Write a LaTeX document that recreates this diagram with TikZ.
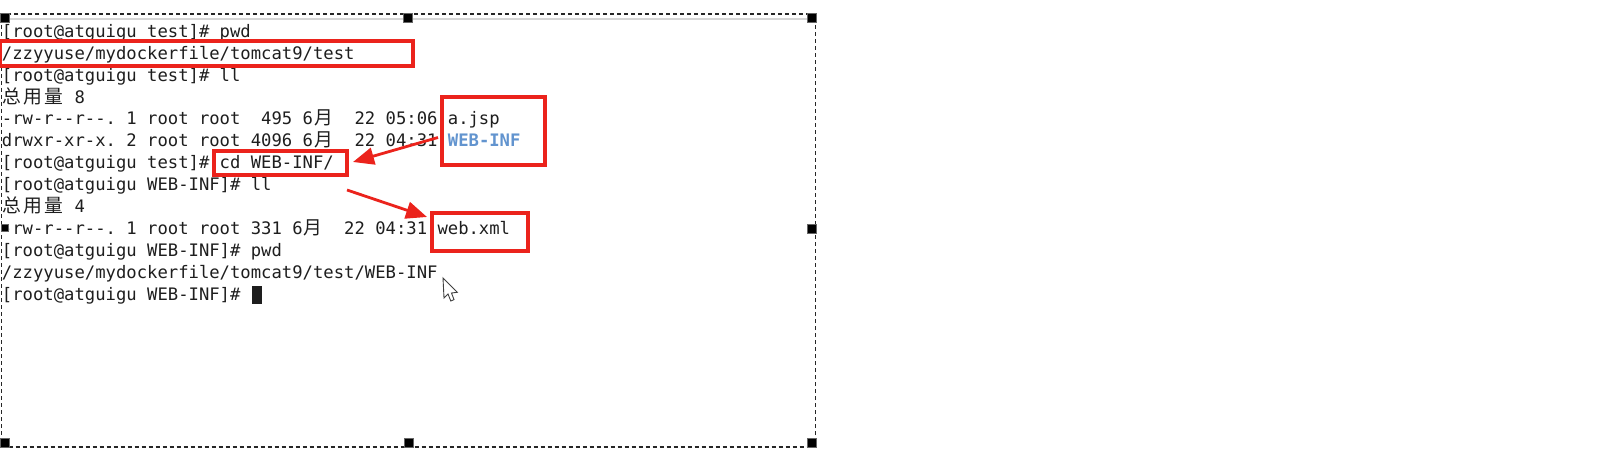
\documentclass[tikz,border=0pt]{standalone}
\usepackage{fontspec}
\newfontfamily\termfont{DejaVu Sans Mono}[Ligatures=TeXOff,WordSpace={1,0,0},PunctuationSpace=WordSpace]
\newfontfamily\cjk{Noto Sans CJK SC}
\usetikzlibrary{arrows.meta,fit}
\definecolor{termtxt}{RGB}{30,30,30}
\definecolor{lblue}{RGB}{98,148,207}
\definecolor{mred}{RGB}{235,35,28}
\newcommand\zh[1]{\makebox[10.37pt][c]{\cjk\fontsize{9.4pt}{9.4pt}\selectfont #1}}
\begin{document}
\begin{tikzpicture}[x=0.5pt,y=-0.5pt,
  term/.style={anchor=base west, inner sep=0pt, outer sep=0pt, text=termtxt,
    font=\termfont\fontsize{8.612pt}{10pt}\selectfont\frenchspacing},
  redbox/.style={draw=mred, line width=1.75pt, inner sep=0pt, fit={#1}},
  redarrow/.style={draw=mred, line width=1.4pt, -{Triangle[length=10.5pt,width=8.5pt]}},
  handle/.style={fill=black, draw=black!60, line width=0.3pt, minimum size=4.4pt, inner sep=0pt},
  selframe/.style={draw=black!85, line width=0.6pt, dash pattern=on 2pt off 1.5pt},
]
\fill[white] (0,0) rectangle (1600,454);
\useasboundingbox (0,0) rectangle (1600,454);

% selection frame
\draw[black!16, line width=1pt] (2,19.5) -- (814,19.5);
\node[selframe, inner sep=0pt, fit={(1.5,14) (815.5,447)}] (frame) {};

% terminal lines
\node[term] (l1)  at (2,37.5)  {[root@atguigu test]\# pwd};
\node[term] (l2)  at (2,59.4)  {/zzyyuse/mydockerfile/tomcat9/test};
\node[term] (l3)  at (2,81.2)  {[root@atguigu test]\# ll};
\node[term] (l4)  at (2,103.1) {\zh{总}\zh{用}\zh{量} 8};
\node[term] (l5)  at (2,125)   {-rw-r--r--. 1 root root~~495 6\zh{月}~~22 05:06 a.jsp};
\node[term] (l6)  at (2,146.9) {drwxr-xr-x. 2 root root 4096 6\zh{月}~~22 04:31 \textcolor{lblue}{\bfseries WEB-INF}};
\node[term] (l7)  at (2,168.7) {[root@atguigu test]\# cd WEB-INF/};
\node[term] (l8)  at (2,190.6) {[root@atguigu WEB-INF]\# ll};
\node[term] (l9)  at (2,212.5) {\zh{总}\zh{用}\zh{量} 4};
\node[term] (l10) at (2,234.4) {-rw-r--r--. 1 root root 331 6\zh{月}~~22 04:31 web.xml};
\node[term] (l11) at (2,256.2) {[root@atguigu WEB-INF]\# pwd};
\node[term] (l12) at (2,278.1) {/zzyyuse/mydockerfile/tomcat9/test/WEB-INF};
\node[term] (l13) at (2,300)   {[root@atguigu WEB-INF]\#};
\node[fill=termtxt, inner sep=0pt, minimum width=4.85pt, minimum height=9pt, anchor=north west] (cur) at (252,286) {};

% red boxes
\node[redbox={(0.5,41) (413,66)}] (b1) {};
\node[redbox={(442,97) (545,165)}] (b2) {};
\node[redbox={(214,151) (347,175)}] (b3) {};
\node[redbox={(432,213) (528,251)}] (b4) {};

% red arrows
\coordinate (a1s) at (438,137.5);
\coordinate (a1e) at (353,162);
\coordinate (a2s) at (347,190);
\coordinate (a2e) at (427,217);
\draw[redarrow] (a1s) -- (a1e);
\draw[redarrow] (a2s) -- (a2e);

% handles
\node[handle] (h1) at (5,17.5) {};
\node[handle] (h2) at (408,17.5) {};
\node[handle] (h3) at (812,17.5) {};
\node[handle] (h4) at (812,229) {};
\node[handle] (h5) at (812,442.5) {};
\node[handle] (h6) at (409,442.5) {};
\node[handle] (h7) at (5,442.5) {};
\node[handle, minimum size=3.5pt] (h8) at (5,228) {};

% mouse pointer
\draw[black!75, line width=0.45pt, fill=white, line join=miter]
  (443,278) -- (444,298) -- (448,294) -- (450.8,301) -- (454,299.6)
  -- (451.5,293) -- (457.3,292.3) -- cycle;
\end{tikzpicture}
\end{document}
